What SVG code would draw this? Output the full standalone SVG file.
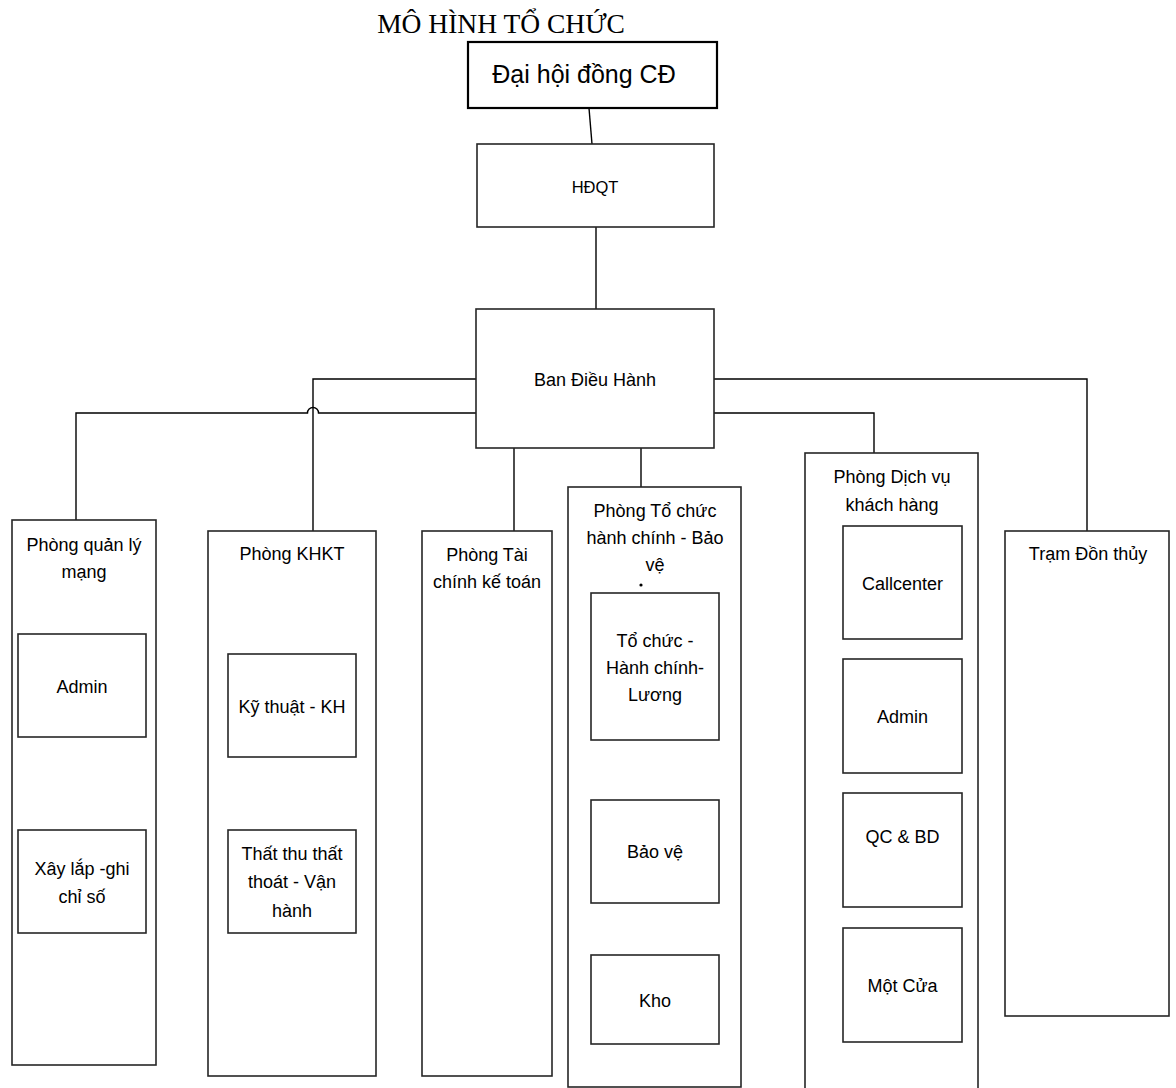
<svg xmlns="http://www.w3.org/2000/svg" width="1176" height="1088" viewBox="0 0 1176 1088">
<style>
.box{fill:#fff;stroke:#262626;stroke-width:1.6}
.conn{fill:none;stroke:#000;stroke-width:1.4}
.t{font-family:"Liberation Sans",Arial,sans-serif;font-size:18px;fill:#000;text-anchor:middle}
</style>
<rect width="1176" height="1088" fill="#fff"/>
<text x="501" y="33" style="font-family:'Liberation Serif','Times New Roman',serif;font-size:27.5px;fill:#000" text-anchor="middle">MÔ HÌNH TỔ CHỨC</text>
<g id="connectors">
<path class="conn" d="M589 108 L592 144"/>
<path class="conn" d="M596 227 V309"/>
<path class="conn" d="M476 379 H313 V531"/>
<path class="conn" d="M476 413 H318.5 A5.5 5.5 0 0 0 307.5 413 H76 V530"/>
<path class="conn" d="M514 448 V531"/>
<path class="conn" d="M641 448 V500"/>
<path class="conn" d="M714 413 H874 V467"/>
<path class="conn" d="M714 379 H1087 V531"/>
</g>
<g id="n-daihoi">
<rect x="468" y="42" width="249" height="66" fill="#fff" stroke="#000" stroke-width="2.2"/>
<text class="t" x="584" y="83" style="font-size:25px">Đại hội đồng CĐ</text>
</g>
<g id="n-hdqt">
<rect class="box" x="477" y="144" width="237" height="83"/>
<text class="t" x="595" y="193" style="font-size:16.5px">HĐQT</text>
</g>
<g id="n-ban">
<rect class="box" x="476" y="309" width="238" height="139"/>
<text class="t" x="595" y="386">Ban Điều Hành</text>
</g>
<g id="n-qlmang">
<rect class="box" x="12" y="520" width="144" height="545"/>
<text class="t" x="84" y="551">Phòng quản lý</text>
<text class="t" x="84" y="578">mạng</text>
</g>
<g id="n-ql-admin">
<rect class="box" x="18" y="634" width="128" height="103"/>
<text class="t" x="82" y="693">Admin</text>
</g>
<g id="n-ql-xaylap">
<rect class="box" x="18" y="830" width="128" height="103"/>
<text class="t" x="82" y="875">Xây lắp -ghi</text>
<text class="t" x="82" y="903">chỉ số</text>
</g>
<g id="n-khkt">
<rect class="box" x="208" y="531" width="168" height="545"/>
<text class="t" x="292" y="560">Phòng KHKT</text>
</g>
<g id="n-kythuat">
<rect class="box" x="228" y="654" width="128" height="103"/>
<text class="t" x="292" y="713">Kỹ thuật - KH</text>
</g>
<g id="n-thatthu">
<rect class="box" x="228" y="830" width="128" height="103"/>
<text class="t" x="292" y="860">Thất thu thất</text>
<text class="t" x="292" y="888">thoát - Vận</text>
<text class="t" x="292" y="917">hành</text>
</g>
<g id="n-taichinh">
<rect class="box" x="422" y="531" width="130" height="545"/>
<text class="t" x="487" y="561">Phòng Tài</text>
<text class="t" x="487" y="588">chính kế toán</text>
</g>
<g id="n-tochuc">
<rect class="box" x="568" y="487" width="173" height="600"/>
<text class="t" x="655" y="517">Phòng Tổ chức</text>
<text class="t" x="655" y="544">hành chính - Bảo</text>
<text class="t" x="655" y="571">vệ</text>
<circle cx="641" cy="585" r="1.6" fill="#000"/>
</g>
<g id="n-tc-hc">
<rect class="box" x="591" y="593" width="128" height="147"/>
<text class="t" x="655" y="647">Tổ chức -</text>
<text class="t" x="655" y="674">Hành chính-</text>
<text class="t" x="655" y="701">Lương</text>
</g>
<g id="n-baove">
<rect class="box" x="591" y="800" width="128" height="103"/>
<text class="t" x="655" y="858">Bảo vệ</text>
</g>
<g id="n-kho">
<rect class="box" x="591" y="955" width="128" height="89"/>
<text class="t" x="655" y="1007">Kho</text>
</g>
<g id="n-dichvu">
<rect class="box" x="805" y="453" width="173" height="645"/>
<text class="t" x="892" y="483">Phòng Dịch vụ</text>
<text class="t" x="892" y="511">khách hàng</text>
</g>
<g id="n-callcenter">
<rect class="box" x="843" y="526" width="119" height="113"/>
<text class="t" x="902.5" y="590">Callcenter</text>
</g>
<g id="n-dv-admin">
<rect class="box" x="843" y="659" width="119" height="114"/>
<text class="t" x="902.5" y="723">Admin</text>
</g>
<g id="n-qcbd">
<rect class="box" x="843" y="793" width="119" height="114"/>
<text class="t" x="902.5" y="843">QC &amp; BD</text>
</g>
<g id="n-motcua">
<rect class="box" x="843" y="928" width="119" height="114"/>
<text class="t" x="902.5" y="992">Một Cửa</text>
</g>
<g id="n-tram">
<rect class="box" x="1005" y="531" width="164" height="485"/>
<text class="t" x="1088" y="560">Trạm Đồn thủy</text>
</g>
</svg>
